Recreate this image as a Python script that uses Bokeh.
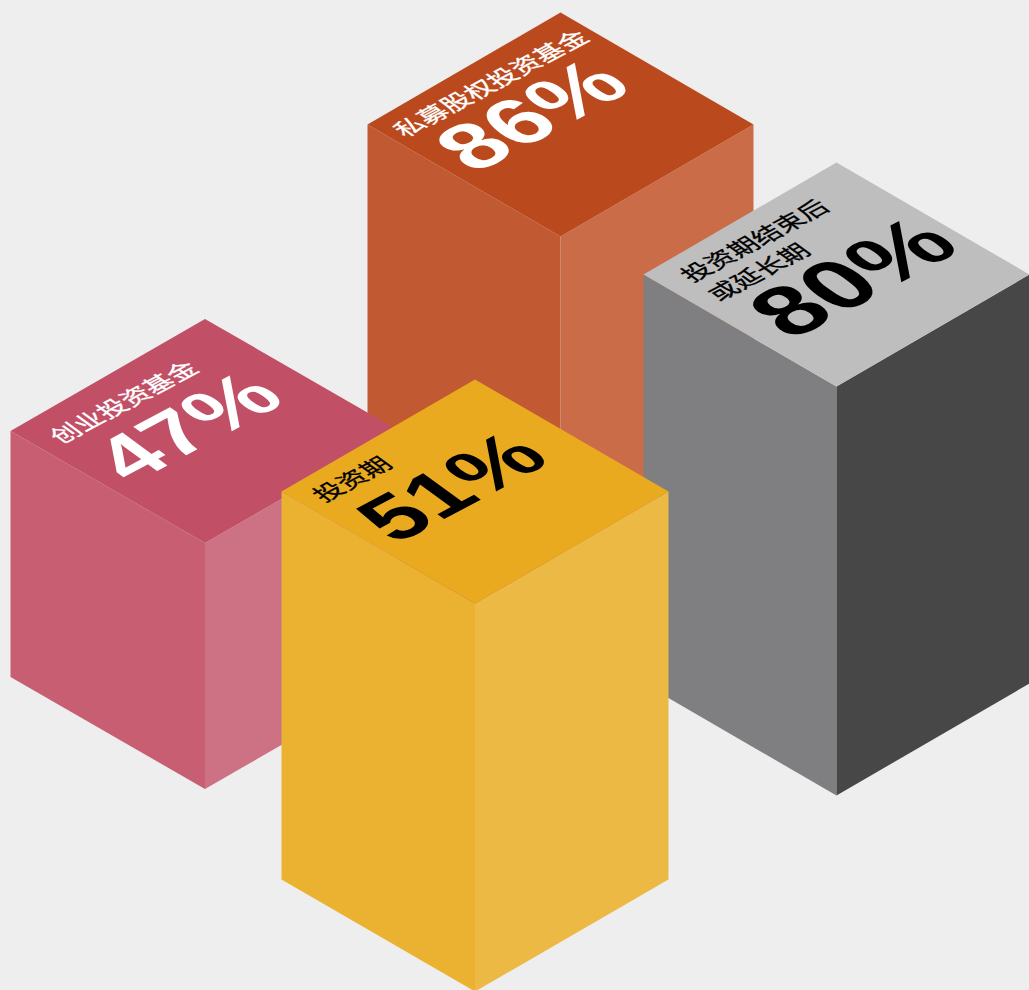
from bokeh.core.properties import value
from bokeh.document import Document
from bokeh.embed import file_html
from bokeh.models import CustomJS, Range1d
from bokeh.plotting import figure
from bokeh.resources import INLINE

# Share of respondents per fund stage, with the caption lines of each block
captions = [["私募股权投资基金"], ["投资期结束后", "或延长期"], ["创业投资基金"], ["投资期"]]
shares = [86, 80, 47, 51]

# Block geometry in page pixels: left corner of the top rhombus and column height
left_x = [367, 643, 10, 281]
left_y = [124, 274, 430.5, 491]
half_w = [193, 193, 194.5, 193.5]
half_h = [112, 112, 112, 112]
column_h = [420, 409, 246, 388]

top_colors = ["#BB491E", "#BEBEBE", "#C14F66", "#E9AA20"]
left_colors = ["#C15A32", "#7F7E80", "#C75E72", "#EBB231"]
right_colors = ["#CB6C48", "#474747", "#CD7184", "#ECBA44"]
text_colors = ["#FFFFFF", "#000000", "#FFFFFF", "#000000"]

# Offsets from the left corner to the start of each caption line and of the figure
caption_offsets = [[(24, 14)], [(35, 9), (62, 28)], [(37, 14)], [(29, 12)]]
share_offsets = [(70, 50), (108, 67), (85, 54), (77.5, 54)]
caption_size = ["26.3px", "26.3px", "26.3px", "26.3px"]
share_size = ["90.5px", "97.5px", "88.5px", "89px"]
label_angle = 28

p = figure(
    width=1029, height=990, output_backend="svg", toolbar_location=None,
    x_range=Range1d(0, 1029), y_range=Range1d(990, 0),
    x_axis_type=None, y_axis_type=None, min_border=0,
    background_fill_color="#EEEEEE", border_fill_color="#EEEEEE",
    outline_line_color=None,
)
p.grid.visible = False

for i in range(len(shares)):
    x0, y0, w, h, col = left_x[i], left_y[i], half_w[i], half_h[i], column_h[i]
    cx, rx = x0 + w, x0 + 2 * w
    by = y0 + h

    p.patch([x0, cx, cx, x0], [y0, by, by + col, y0 + col], fill_color=left_colors[i], line_color=None)
    p.patch([cx, rx, rx, cx], [by, y0, y0 + col, by + col], fill_color=right_colors[i], line_color=None)
    p.patch([x0, cx, rx, cx], [y0, y0 - h, y0, by], fill_color=top_colors[i], line_color=None)

    for line, (dx, dy) in zip(captions[i], caption_offsets[i]):
        p.text(
            x=[x0 + dx], y=[y0 + dy], text=[line], angle=label_angle, angle_units="deg",
            text_color=text_colors[i], text_font=value("Noto Sans CJK SC"),
            text_font_size=caption_size[i], text_baseline="alphabetic", text_align="left",
        )
    dx, dy = share_offsets[i]
    p.text(
        x=[x0 + dx], y=[y0 + dy], text=[f"{shares[i]}%"], angle=label_angle, angle_units="deg",
        text_color=text_colors[i], text_font=value("Liberation Sans"), text_font_style="bold",
        text_font_size=share_size[i], text_baseline="alphabetic", text_align="left",
    )

# Lay the rotated labels flat on the top faces with an isometric shear,
# and thicken the caption strokes slightly
shear = CustomJS(code="""
document.body.style.background = '#EEEEEE';
function collect(root, out) {
    root.querySelectorAll('*').forEach(el => {
        if (el.tagName && el.tagName.toLowerCase() === 'text') out.push(el);
        if (el.shadowRoot) collect(el.shadowRoot, out);
    });
    return out;
}
function apply() {
    collect(document, []).forEach(t => {
        const m = t.getAttribute('transform') || '';
        if (m.indexOf('matrix(1 0 0.4') >= 0) return;
        t.setAttribute('transform', m + ' matrix(1 0 0.4 0.824 0 0)');
        if (/[^\\x00-\\x7F]/.test(t.textContent)) {
            t.setAttribute('stroke', t.getAttribute('fill') || '#000000');
            t.setAttribute('stroke-width', '0.35');
        }
    });
}
apply();
const timer = setInterval(apply, 30);
setTimeout(() => clearInterval(timer), 5000);
""")
doc = Document()
doc.add_root(p)
doc.js_on_event("document_ready", shear)

open("out.html", "w").write(file_html(p, INLINE))
